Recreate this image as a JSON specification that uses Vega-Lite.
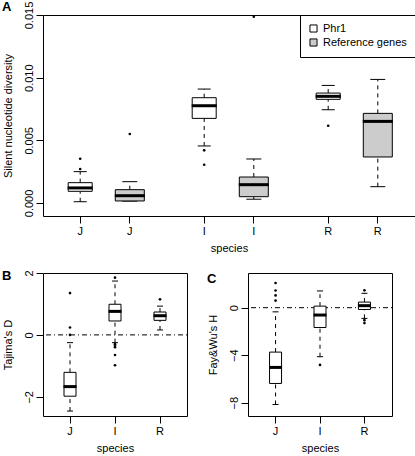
{
  "$schema": "https://vega.github.io/schema/vega-lite/v6.json",
  "padding": {"left": 1, "top": 0, "right": 0, "bottom": 0},
  "config": {
    "font": "Liberation Sans",
    "view": {"stroke": "black", "strokeWidth": 1},
    "axis": {"domain": false, "grid": false, "tickColor": "black", "tickSize": 7, "labelColor": "black", "labelFontSize": 11, "titleFontSize": 11, "titleFontWeight": "normal", "titleColor": "black", "labelPadding": 2, "labelOverlap": false, "labelBound": false, "labelSeparation": -100},
    "axisY": {"labelAngle": 270, "labelAlign": "center", "labelBaseline": "bottom", "titlePadding": 10},
    "axisX": {"labelAngle": 0, "titlePadding": 6},
    "title": {"fontSize": 13, "fontWeight": "bold", "anchor": "start", "frame": "bounds", "color": "black"},
    "legend": {"orient": "top-right", "offset": 0, "strokeColor": "black", "padding": 8, "symbolType": "square", "symbolStrokeColor": "black", "symbolStrokeWidth": 1, "symbolSize": 50, "labelFontSize": 11, "rowPadding": 1, "labelColor": "black"}
  },
  "resolve": {"scale": {"fill": "independent"}, "legend": {"fill": "independent"}},
  "datasets": {
    "boxA": [
      {"box": "J Phr1", "type": "Phr1", "lo": 0.0001, "q1": 0.00093, "med": 0.0012, "q3": 0.00162, "hi": 0.0025},
      {"box": "J Ref", "type": "Reference genes", "lo": 0.00015, "q1": 0.00016, "med": 0.00058, "q3": 0.00106, "hi": 0.0017},
      {"box": "I Phr1", "type": "Phr1", "lo": 0.00455, "q1": 0.00675, "med": 0.00776, "q3": 0.0084, "hi": 0.00909},
      {"box": "I Ref", "type": "Reference genes", "lo": 0.0003, "q1": 0.0005, "med": 0.00146, "q3": 0.00207, "hi": 0.00351},
      {"box": "R Phr1", "type": "Phr1", "lo": 0.00744, "q1": 0.00827, "med": 0.00851, "q3": 0.00877, "hi": 0.00938},
      {"box": "R Ref", "type": "Reference genes", "lo": 0.0013, "q1": 0.00367, "med": 0.00651, "q3": 0.00715, "hi": 0.00986}
    ],
    "outA": [
      {"box": "J Phr1", "value": 0.00353},
      {"box": "J Phr1", "value": 0.00271},
      {"box": "J Ref", "value": 0.0055},
      {"box": "I Phr1", "value": 0.0042},
      {"box": "I Phr1", "value": 0.00305},
      {"box": "I Ref", "value": 0.01486},
      {"box": "R Phr1", "value": 0.00616}
    ],
    "zero": [{"ref": 0}],
    "boxB": [
      {"species": "J", "lo": -2.46, "q1": -1.98, "med": -1.67, "q3": -1.21, "hi": -0.25},
      {"species": "I", "lo": -0.25, "q1": 0.45, "med": 0.76, "q3": 0.99, "hi": 1.74},
      {"species": "R", "lo": 0.16, "q1": 0.47, "med": 0.62, "q3": 0.74, "hi": 0.93}
    ],
    "outB": [
      {"species": "J", "value": 1.35},
      {"species": "J", "value": 0.24},
      {"species": "J", "value": 0.0},
      {"species": "I", "value": 1.85},
      {"species": "I", "value": -0.3},
      {"species": "I", "value": -0.35},
      {"species": "I", "value": -0.4},
      {"species": "I", "value": -0.65},
      {"species": "I", "value": -0.98},
      {"species": "R", "value": 1.15}
    ],
    "boxC": [
      {"species": "J", "lo": -8.15, "q1": -6.38, "med": -5.03, "q3": -3.74, "hi": -0.35},
      {"species": "I", "lo": -4.13, "q1": -1.67, "med": -0.62, "q3": 0.13, "hi": 1.41},
      {"species": "R", "lo": -0.9, "q1": -0.15, "med": 0.17, "q3": 0.47, "hi": 1.21}
    ],
    "outC": [
      {"species": "J", "value": 2.08},
      {"species": "J", "value": 1.45},
      {"species": "J", "value": 1.03},
      {"species": "J", "value": 0.6},
      {"species": "I", "value": -4.82},
      {"species": "R", "value": 1.46},
      {"species": "R", "value": -1.05},
      {"species": "R", "value": -1.3}
    ]
  },
  "spacing": 15,
  "vconcat": [
    {
      "width": 372,
      "height": 201,
      "title": {"text": "A", "offset": -13},
      "data": {"name": "boxA"},
      "encoding": {
        "x": {"field": "box", "type": "nominal", "scale": {"domain": ["J Phr1", "_1", "J Ref", "_2", "_3", "I Phr1", "_4", "I Ref", "_5", "_6", "R Phr1", "_7", "R Ref"], "paddingInner": 0, "paddingOuter": 1.63}, "axis": {"values": ["J Phr1", "J Ref", "I Phr1", "I Ref", "R Phr1", "R Ref"], "labelExpr": "slice(datum.value, 0, 1)", "title": "species"}}
      },
      "layer": [
        {"mark": {"type": "rule", "color": "black", "strokeDash": [4, 4]},
         "encoding": {"y": {"field": "q3", "type": "quantitative", "scale": {"domain": [-0.00104, 0.015], "nice": false, "zero": false}, "axis": {"values": [0, 0.005, 0.01, 0.015], "format": ".3f", "labelOverlap": false, "title": "Silent nucleotide diversity"}}, "y2": {"field": "hi"}}},
        {"mark": {"type": "rule", "color": "black", "strokeDash": [4, 4]},
         "encoding": {"y": {"field": "lo", "type": "quantitative"}, "y2": {"field": "q1"}}},
        {"transform": [{"filter": "datum.type === 'Phr1'"}], "mark": {"type": "tick", "color": "black", "opacity": 1, "thickness": 1, "size": 13},
         "encoding": {"y": {"field": "hi", "type": "quantitative"}}},
        {"transform": [{"filter": "datum.type === 'Phr1'"}], "mark": {"type": "tick", "color": "black", "opacity": 1, "thickness": 1, "size": 13},
         "encoding": {"y": {"field": "lo", "type": "quantitative"}}},
        {"transform": [{"filter": "datum.type !== 'Phr1'"}], "mark": {"type": "tick", "color": "black", "opacity": 1, "thickness": 1, "size": 15},
         "encoding": {"y": {"field": "hi", "type": "quantitative"}}},
        {"transform": [{"filter": "datum.type !== 'Phr1'"}], "mark": {"type": "tick", "color": "black", "opacity": 1, "thickness": 1, "size": 15},
         "encoding": {"y": {"field": "lo", "type": "quantitative"}}},
        {"transform": [{"filter": "datum.type === 'Phr1'"}], "mark": {"type": "bar", "stroke": "black", "strokeWidth": 1, "opacity": 1, "size": 24},
         "encoding": {"y": {"field": "q1", "type": "quantitative"}, "y2": {"field": "q3"},
           "fill": {"field": "type", "type": "nominal", "scale": {"domain": ["Phr1", "Reference genes"], "range": ["white", "#cccccc"]}, "legend": {"title": null}}}},
        {"transform": [{"filter": "datum.type !== 'Phr1'"}], "mark": {"type": "bar", "stroke": "black", "strokeWidth": 1, "opacity": 1, "size": 29},
         "encoding": {"y": {"field": "q1", "type": "quantitative"}, "y2": {"field": "q3"},
           "fill": {"field": "type", "type": "nominal"}}},
        {"transform": [{"filter": "datum.type === 'Phr1'"}], "mark": {"type": "tick", "color": "black", "opacity": 1, "thickness": 3, "size": 25},
         "encoding": {"y": {"field": "med", "type": "quantitative"}}},
        {"transform": [{"filter": "datum.type !== 'Phr1'"}], "mark": {"type": "tick", "color": "black", "opacity": 1, "thickness": 3, "size": 30},
         "encoding": {"y": {"field": "med", "type": "quantitative"}}},
        {"data": {"name": "outA"}, "mark": {"type": "circle", "color": "black", "size": 7, "opacity": 1},
         "encoding": {"y": {"field": "value", "type": "quantitative"}}}
      ]
    },
    {
      "spacing": 18,
      "hconcat": [
        {
          "width": 144,
          "height": 143,
          "title": {"text": "B", "offset": -13},
          "layer": [
            {"data": {"name": "zero"}, "mark": {"type": "rule", "color": "black", "strokeDash": [1, 3, 5, 3]},
             "encoding": {"y": {"field": "ref", "type": "quantitative", "scale": {"domain": [-2.62, 2.0], "nice": false, "zero": false}, "axis": {"values": [-2, -1, 0, 1, 2], "labelOverlap": false, "labelSeparation": -100, "title": "Tajima's D"}}}},
            {"data": {"name": "boxB"}, "mark": {"type": "rule", "color": "black", "strokeDash": [4, 4]},
             "encoding": {"x": {"field": "species", "type": "nominal", "scale": {"domain": ["J", "I", "R"], "paddingInner": 0, "paddingOuter": 0.1}, "axis": {"title": "species"}}, "y": {"field": "q3", "type": "quantitative"}, "y2": {"field": "hi"}}},
            {"data": {"name": "boxB"}, "mark": {"type": "rule", "color": "black", "strokeDash": [4, 4]},
             "encoding": {"x": {"field": "species", "type": "nominal"}, "y": {"field": "lo", "type": "quantitative"}, "y2": {"field": "q1"}}},
            {"data": {"name": "boxB"}, "mark": {"type": "tick", "color": "black", "opacity": 1, "thickness": 1, "size": 6},
             "encoding": {"x": {"field": "species", "type": "nominal"}, "y": {"field": "hi", "type": "quantitative"}}},
            {"data": {"name": "boxB"}, "mark": {"type": "tick", "color": "black", "opacity": 1, "thickness": 1, "size": 6},
             "encoding": {"x": {"field": "species", "type": "nominal"}, "y": {"field": "lo", "type": "quantitative"}}},
            {"data": {"name": "boxB"}, "mark": {"type": "bar", "stroke": "black", "strokeWidth": 1, "fill": "white", "opacity": 1, "size": 12},
             "encoding": {"x": {"field": "species", "type": "nominal"}, "y": {"field": "q1", "type": "quantitative"}, "y2": {"field": "q3"}}},
            {"data": {"name": "boxB"}, "mark": {"type": "tick", "color": "black", "opacity": 1, "thickness": 3, "size": 13},
             "encoding": {"x": {"field": "species", "type": "nominal"}, "y": {"field": "med", "type": "quantitative"}}},
            {"data": {"name": "outB"}, "mark": {"type": "circle", "color": "black", "size": 7, "opacity": 1},
             "encoding": {"x": {"field": "species", "type": "nominal"}, "y": {"field": "value", "type": "quantitative"}}}
          ]
        },
        {
          "width": 144,
          "height": 143,
          "title": {"text": "C", "offset": -13},
          "layer": [
            {"data": {"name": "zero"}, "mark": {"type": "rule", "color": "black", "strokeDash": [1, 3, 5, 3]},
             "encoding": {"y": {"field": "ref", "type": "quantitative", "scale": {"domain": [-9.12, 2.92], "nice": false, "zero": false}, "axis": {"values": [-8, -6, -4, -2, 0, 2], "labelOverlap": false, "labelSeparation": -100, "title": "Fay&Wu's H"}}}},
            {"data": {"name": "boxC"}, "mark": {"type": "rule", "color": "black", "strokeDash": [4, 4]},
             "encoding": {"x": {"field": "species", "type": "nominal", "scale": {"domain": ["J", "I", "R"], "paddingInner": 0, "paddingOuter": 0.12}, "axis": {"title": "species"}}, "y": {"field": "q3", "type": "quantitative"}, "y2": {"field": "hi"}}},
            {"data": {"name": "boxC"}, "mark": {"type": "rule", "color": "black", "strokeDash": [4, 4]},
             "encoding": {"x": {"field": "species", "type": "nominal"}, "y": {"field": "lo", "type": "quantitative"}, "y2": {"field": "q1"}}},
            {"data": {"name": "boxC"}, "mark": {"type": "tick", "color": "black", "opacity": 1, "thickness": 1, "size": 6},
             "encoding": {"x": {"field": "species", "type": "nominal"}, "y": {"field": "hi", "type": "quantitative"}}},
            {"data": {"name": "boxC"}, "mark": {"type": "tick", "color": "black", "opacity": 1, "thickness": 1, "size": 6},
             "encoding": {"x": {"field": "species", "type": "nominal"}, "y": {"field": "lo", "type": "quantitative"}}},
            {"data": {"name": "boxC"}, "mark": {"type": "bar", "stroke": "black", "strokeWidth": 1, "fill": "white", "opacity": 1, "size": 12},
             "encoding": {"x": {"field": "species", "type": "nominal"}, "y": {"field": "q1", "type": "quantitative"}, "y2": {"field": "q3"}}},
            {"data": {"name": "boxC"}, "mark": {"type": "tick", "color": "black", "opacity": 1, "thickness": 3, "size": 13},
             "encoding": {"x": {"field": "species", "type": "nominal"}, "y": {"field": "med", "type": "quantitative"}}},
            {"data": {"name": "outC"}, "mark": {"type": "circle", "color": "black", "size": 7, "opacity": 1},
             "encoding": {"x": {"field": "species", "type": "nominal"}, "y": {"field": "value", "type": "quantitative"}}}
          ]
        }
      ]
    }
  ]
}
